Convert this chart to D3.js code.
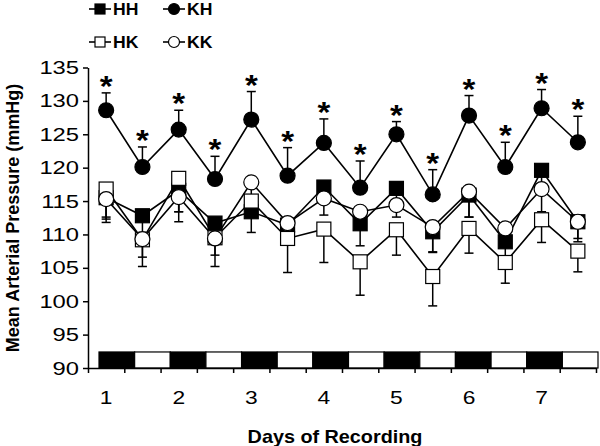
<!DOCTYPE html>
<html>
<head>
<meta charset="utf-8">
<script src="https://cdn.jsdelivr.net/npm/d3@7"></script>
<style>
body { margin: 0; background: #fff; }
text { font-family: Arial, "Liberation Sans", sans-serif; fill: #000; }
</style>
</head>
<body>
<script>
var w = 600;
var h = 446;

// 14 half-day periods, labelled by day
var dayLabels = ["1", "2", "3", "4", "5", "6", "7"];
var photoperiod = ["dark", "light", "dark", "light", "dark", "light", "dark",
                   "light", "dark", "light", "dark", "light", "dark", "light"];
var yTicks = [90, 95, 100, 105, 110, 115, 120, 125, 130, 135];

var hh    = [115.5, 112.8, 116.6, 111.7, 113.4, 111.4, 117.1, 111.6, 116.9, 110.4, 115.9, 108.9, 119.6, 111.9];
var hhErr = [3.7, 2.5, 4.7, 2.0, 3.1, 2.0, 2.5, 3.3, 2.0, 3.1, 3.3, 2.5, 3.0, 3.0];
var hk    = [116.8, 109.2, 118.4, 109.5, 115.0, 109.4, 110.8, 105.9, 110.7, 103.7, 110.9, 105.8, 112.2, 107.5];
var hkErr = [4.2, 4.0, 5.0, 4.3, 2.0, 5.1, 5.0, 5.0, 3.8, 4.4, 3.7, 3.1, 3.4, 3.1];
var kh    = [128.6, 120.1, 125.7, 118.3, 127.2, 118.8, 123.7, 117.0, 125.0, 116.0, 127.8, 120.1, 128.9, 123.8];
var khErr = [2.6, 3.0, 2.9, 3.4, 4.2, 4.2, 3.6, 4.0, 1.9, 3.7, 3.0, 3.7, 2.8, 3.9];
var kk    = [115.3, 109.3, 115.6, 109.4, 117.8, 111.7, 115.4, 113.4, 114.4, 111.1, 116.4, 110.9, 116.8, 111.9];
var kkErr = [3.0, 2.7, 2.2, 2.5, 2.5, 2.0, 2.5, 2.5, 1.8, 3.7, 3.8, 2.0, 3.4, 2.5];

// KH differs from the others at every period
var signif = [1, 1, 1, 1, 1, 1, 1, 1, 1, 1, 1, 1, 1, 1];

var series = [
    {name: "HH", v: hh, e: hhErr, shape: "square", fill: "#000", dir: -1},
    {name: "HK", v: hk, e: hkErr, shape: "square", fill: "#fff", dir: -1},
    {name: "KK", v: kk, e: kkErr, shape: "circle", fill: "#fff", dir: -1},
    {name: "KH", v: kh, e: khErr, shape: "circle", fill: "#000", dir: 1}
];

var svg = d3.select("body").append("svg")
    .attr("width", w)
    .attr("height", h);

var x = d3.scaleLinear().domain([0, 14]).range([88, 596]);
var y = d3.scaleLinear().domain([90, 135]).range([368, 67.5]);
function px(i) { return x(i + 0.5); }

// the original figure's lettering is a bit wide, so squeeze it out sideways
function wide(sel, tx, ty, sx) {
    return sel.attr("transform", "translate(" + tx + "," + ty + ") scale(" + sx + ",1)");
}

// light / dark strip along the bottom
var xp = d3.scaleLinear().domain([0, 14]).range([x(0) + 11, x(14) + 2]);
svg.append("g").selectAll("rect").data(photoperiod).enter().append("rect")
    .attr("x", function (d, i) { return xp(i); })
    .attr("width", xp(1) - xp(0))
    .attr("y", y(92.4))
    .attr("height", y(90) - y(92.4))
    .attr("fill", function (d) { return d == "dark" ? "#000" : "#fff"; })
    .attr("stroke", "#000")
    .attr("stroke-width", 1.2);

// axes
var yAxis = svg.append("g")
    .attr("transform", "translate(" + x(0) + ",0)")
    .call(d3.axisLeft(y).tickValues(yTicks).tickSize(5).tickSizeOuter(0).tickPadding(4));
yAxis.selectAll("text")
    .style("font-size", "19px")
    .attr("fill", "#000")
    .attr("x", -9 / 1.25)
    .attr("transform", "scale(1.25,1)");

var xAxis = svg.append("g")
    .attr("transform", "translate(0," + y(90) + ")")
    .call(d3.axisBottom(x).tickValues(d3.range(15)).tickFormat("").tickSize(5).tickSizeOuter(0));

svg.selectAll(".domain, .tick line").attr("stroke", "#000").attr("stroke-width", 1.5);

svg.append("g").selectAll("text").data(dayLabels).enter().append("text")
    .each(function (d, i) { wide(d3.select(this), px(i * 2), 404, 1.2); })
    .attr("text-anchor", "middle")
    .style("font-size", "19px")
    .text(function (d) { return d; });

wide(svg.append("text"), 335, 443, 1.1)
    .attr("text-anchor", "middle")
    .style("font-size", "18px").style("font-weight", "bold")
    .text("Days of Recording");

svg.append("text")
    .attr("transform", "translate(18.5,218) rotate(-90)")
    .attr("text-anchor", "middle")
    .style("font-size", "18px").style("font-weight", "bold")
    .text("Mean Arterial Pressure (mmHg)");

// error bars (one direction only)
var cap = 4.5;
series.forEach(function (s) {
    var g = svg.append("g").attr("stroke", "#000").attr("stroke-width", 1.5);
    s.v.forEach(function (v, i) {
        var end = y(v + s.dir * s.e[i]);
        g.append("line").attr("x1", px(i)).attr("x2", px(i)).attr("y1", y(v)).attr("y2", end);
        g.append("line").attr("x1", px(i) - cap).attr("x2", px(i) + cap).attr("y1", end).attr("y2", end);
    });
});

var line = d3.line()
    .x(function (d, i) { return px(i); })
    .y(function (d) { return y(d); });

function marker(g, shape, fill, cx, cy, size) {
    if (shape == "square") {
        g.append("rect")
            .attr("x", cx - size / 2).attr("y", cy - size / 2)
            .attr("width", size).attr("height", size)
            .attr("fill", fill).attr("stroke", "#000").attr("stroke-width", 1.2);
    } else {
        g.append("circle")
            .attr("cx", cx).attr("cy", cy).attr("r", size / 2 + 0.5)
            .attr("fill", fill).attr("stroke", "#000").attr("stroke-width", 1.2);
    }
}

series.forEach(function (s) {
    svg.append("path")
        .datum(s.v)
        .attr("d", line)
        .attr("fill", "none")
        .attr("stroke", "#000")
        .attr("stroke-width", 1.6);
});

series.forEach(function (s) {
    var g = svg.append("g");
    s.v.forEach(function (v, i) { marker(g, s.shape, s.fill, px(i), y(v), 14); });
});

// significance stars above KH
svg.append("g").selectAll("text").data(kh).enter().append("text")
    .filter(function (d, i) { return signif[i]; })
    .each(function (d, i) { wide(d3.select(this), px(i), y(d + khErr[i]) + 3, 1.1); })
    .attr("text-anchor", "middle")
    .style("font-size", "30px").style("font-weight", "bold")
    .text("*");

// legend
var legend = [
    {s: series[0], lx: 89, ly: 9},
    {s: series[3], lx: 163, ly: 9},
    {s: series[1], lx: 89, ly: 42},
    {s: series[2], lx: 163, ly: 42}
];
legend.forEach(function (d) {
    var g = svg.append("g");
    g.append("line")
        .attr("x1", d.lx).attr("x2", d.lx + 22)
        .attr("y1", d.ly).attr("y2", d.ly)
        .attr("stroke", "#000").attr("stroke-width", 1.6);
    marker(g, d.s.shape, d.s.fill, d.lx + 11, d.ly, 10);
    wide(g.append("text"), d.lx + 24, d.ly + 6, 1.1)
        .style("font-size", "16px").style("font-weight", "bold")
        .text(d.s.name);
});
</script>
</body>
</html>
